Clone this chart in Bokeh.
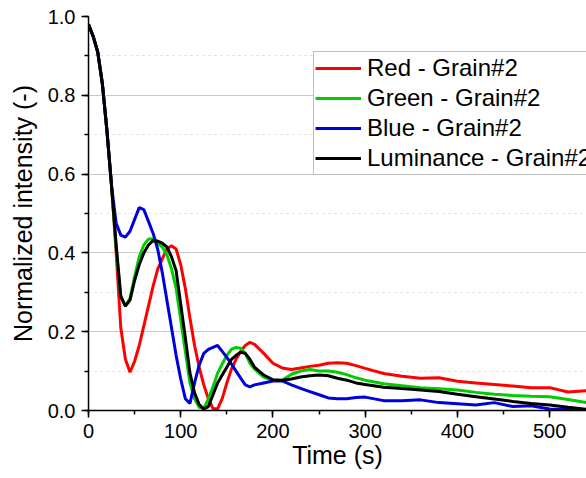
from bokeh.plotting import figure
from bokeh.models import SingleIntervalTicker, Legend, LegendItem, Range1d, PrintfTickFormatter
from bokeh.embed import file_html
from bokeh.resources import INLINE

time_s = [0, 5, 10, 15, 20, 25, 30, 35, 40, 45, 50, 55, 60, 65, 70, 75, 80, 85, 90, 95,
          100, 105, 110, 115, 120, 125, 130, 135, 140, 145, 150, 155, 160, 165, 170, 175,
          180, 190, 200, 210, 220, 230, 240, 250, 260, 270, 280, 290, 300, 320, 340, 360,
          380, 400, 420, 440, 460, 480, 500, 520, 540]

red = [0.98, 0.95, 0.91, 0.83, 0.71, 0.57, 0.40, 0.21, 0.13, 0.097, 0.125, 0.165, 0.215, 0.265,
       0.315, 0.358, 0.385, 0.41, 0.418, 0.41, 0.37, 0.31, 0.235, 0.165, 0.11, 0.065, 0.03,
       0.005, 0.004, 0.03, 0.07, 0.105, 0.13, 0.15, 0.165, 0.173, 0.168, 0.145, 0.12, 0.108,
       0.104, 0.108, 0.112, 0.115, 0.12, 0.121, 0.12, 0.114, 0.107, 0.094, 0.087, 0.082,
       0.083, 0.074, 0.07, 0.066, 0.062, 0.058, 0.058, 0.047, 0.05]

green = [0.98, 0.95, 0.91, 0.83, 0.71, 0.57, 0.41, 0.29, 0.265, 0.285, 0.34, 0.39, 0.42, 0.435,
         0.435, 0.425, 0.415, 0.395, 0.36, 0.31, 0.23, 0.15, 0.07, 0.03, 0.008, 0.005, 0.03,
         0.06, 0.095, 0.118, 0.14, 0.155, 0.16, 0.158, 0.145, 0.12, 0.105, 0.085, 0.076, 0.077,
         0.092, 0.10, 0.104, 0.10, 0.10, 0.097, 0.091, 0.083, 0.077, 0.068, 0.063, 0.058,
         0.055, 0.052, 0.046, 0.041, 0.038, 0.036, 0.035, 0.028, 0.02]

blue = [0.98, 0.95, 0.91, 0.83, 0.71, 0.57, 0.475, 0.445, 0.44, 0.455, 0.485, 0.515, 0.51, 0.48,
        0.45, 0.41, 0.35, 0.28, 0.21, 0.14, 0.08, 0.03, 0.018, 0.07, 0.115, 0.145, 0.155,
        0.16, 0.165, 0.15, 0.135, 0.118, 0.10, 0.082, 0.065, 0.06, 0.065, 0.07, 0.075, 0.075,
        0.065, 0.056, 0.048, 0.04, 0.032, 0.03, 0.03, 0.033, 0.034, 0.025, 0.025, 0.027,
        0.02, 0.017, 0.014, 0.02, 0.01, 0.012, 0.004, 0.003, 0.0]

luminance = [0.98, 0.95, 0.91, 0.83, 0.71, 0.57, 0.42, 0.29, 0.265, 0.28, 0.33, 0.37, 0.40, 0.42,
             0.431, 0.43, 0.425, 0.415, 0.39, 0.355, 0.27, 0.185, 0.095, 0.045, 0.015, 0.004,
             0.01, 0.04, 0.07, 0.09, 0.11, 0.13, 0.14, 0.148, 0.145, 0.13, 0.11, 0.09, 0.078,
             0.077, 0.08, 0.085, 0.088, 0.09, 0.088, 0.082, 0.077, 0.07, 0.066, 0.059, 0.056,
             0.052, 0.048, 0.041, 0.035, 0.029, 0.023, 0.018, 0.014, 0.008, 0.003]

labels = ["Red - Grain#2", "Green - Grain#2", "Blue - Grain#2", "Luminance - Grain#2"]
colors = ["#ff0000", "#00cc00", "#0000dd", "#000000"]

FONT = "Liberation Sans"

p = figure(frame_width=498, frame_height=394, output_backend="svg", toolbar_location=None,
           x_range=Range1d(0, 540), y_range=Range1d(0, 1.0),
           min_border_left=88, min_border_right=0, min_border_top=16, min_border_bottom=0)
p.outline_line_color = None
p.background_fill_color = "white"
p.border_fill_color = "white"

renderers = []
for ys, c in zip([red, green, blue, luminance], colors):
    r = p.line(time_s, ys, line_color=c, line_width=3)
    renderers.append(r)

# axes
p.xaxis.ticker = SingleIntervalTicker(interval=100, num_minor_ticks=2)
p.yaxis.ticker = SingleIntervalTicker(interval=0.2, num_minor_ticks=2)
p.yaxis.formatter = PrintfTickFormatter(format="%.1f")
for ax in (p.xaxis, p.yaxis):
    ax.axis_line_color = "black"
    ax.axis_line_width = 1.5
    ax.major_tick_line_color = "black"
    ax.major_tick_line_width = 1.5
    ax.minor_tick_line_color = "black"
    ax.minor_tick_line_width = 1.5
    ax.major_tick_in = 0
    ax.major_tick_out = 7
    ax.minor_tick_in = 0
    ax.minor_tick_out = 4
    ax.major_label_text_font = FONT
    ax.major_label_text_font_size = "20px"
    ax.major_label_text_color = "black"
    ax.major_label_standoff = 6
    ax.axis_label_text_font = FONT
    ax.axis_label_text_font_size = "25px"
    ax.axis_label_text_font_style = "normal"
    ax.axis_label_text_color = "black"
p.xaxis.axis_label = "Time (s)"
p.yaxis.axis_label = "Normalized intensity (-)"
p.xaxis.axis_label_standoff = 0
p.yaxis.axis_label_standoff = 8

# grid
p.xgrid.grid_line_color = None
p.ygrid.grid_line_color = "#c8c8c8"
p.ygrid.grid_line_width = 1
p.ygrid.minor_grid_line_color = "#d8d8d8"
p.ygrid.minor_grid_line_dash = "dotted"
p.ygrid.minor_grid_line_width = 1

legend = Legend(items=[LegendItem(label=l, renderers=[r]) for l, r in zip(labels, renderers)],
                location=(225, 235))
legend.label_text_font = FONT
legend.label_text_font_size = "24px"
legend.label_text_color = "black"
legend.glyph_width = 46
legend.glyph_height = 30
legend.label_height = 30
legend.label_standoff = 6
legend.spacing = 0
legend.padding = 1
legend.margin = 0
legend.border_line_color = "#808080"
legend.border_line_width = 1
legend.background_fill_color = "white"
legend.background_fill_alpha = 1.0
p.add_layout(legend, "center")

open("out.html", "w").write(file_html(p, INLINE))
